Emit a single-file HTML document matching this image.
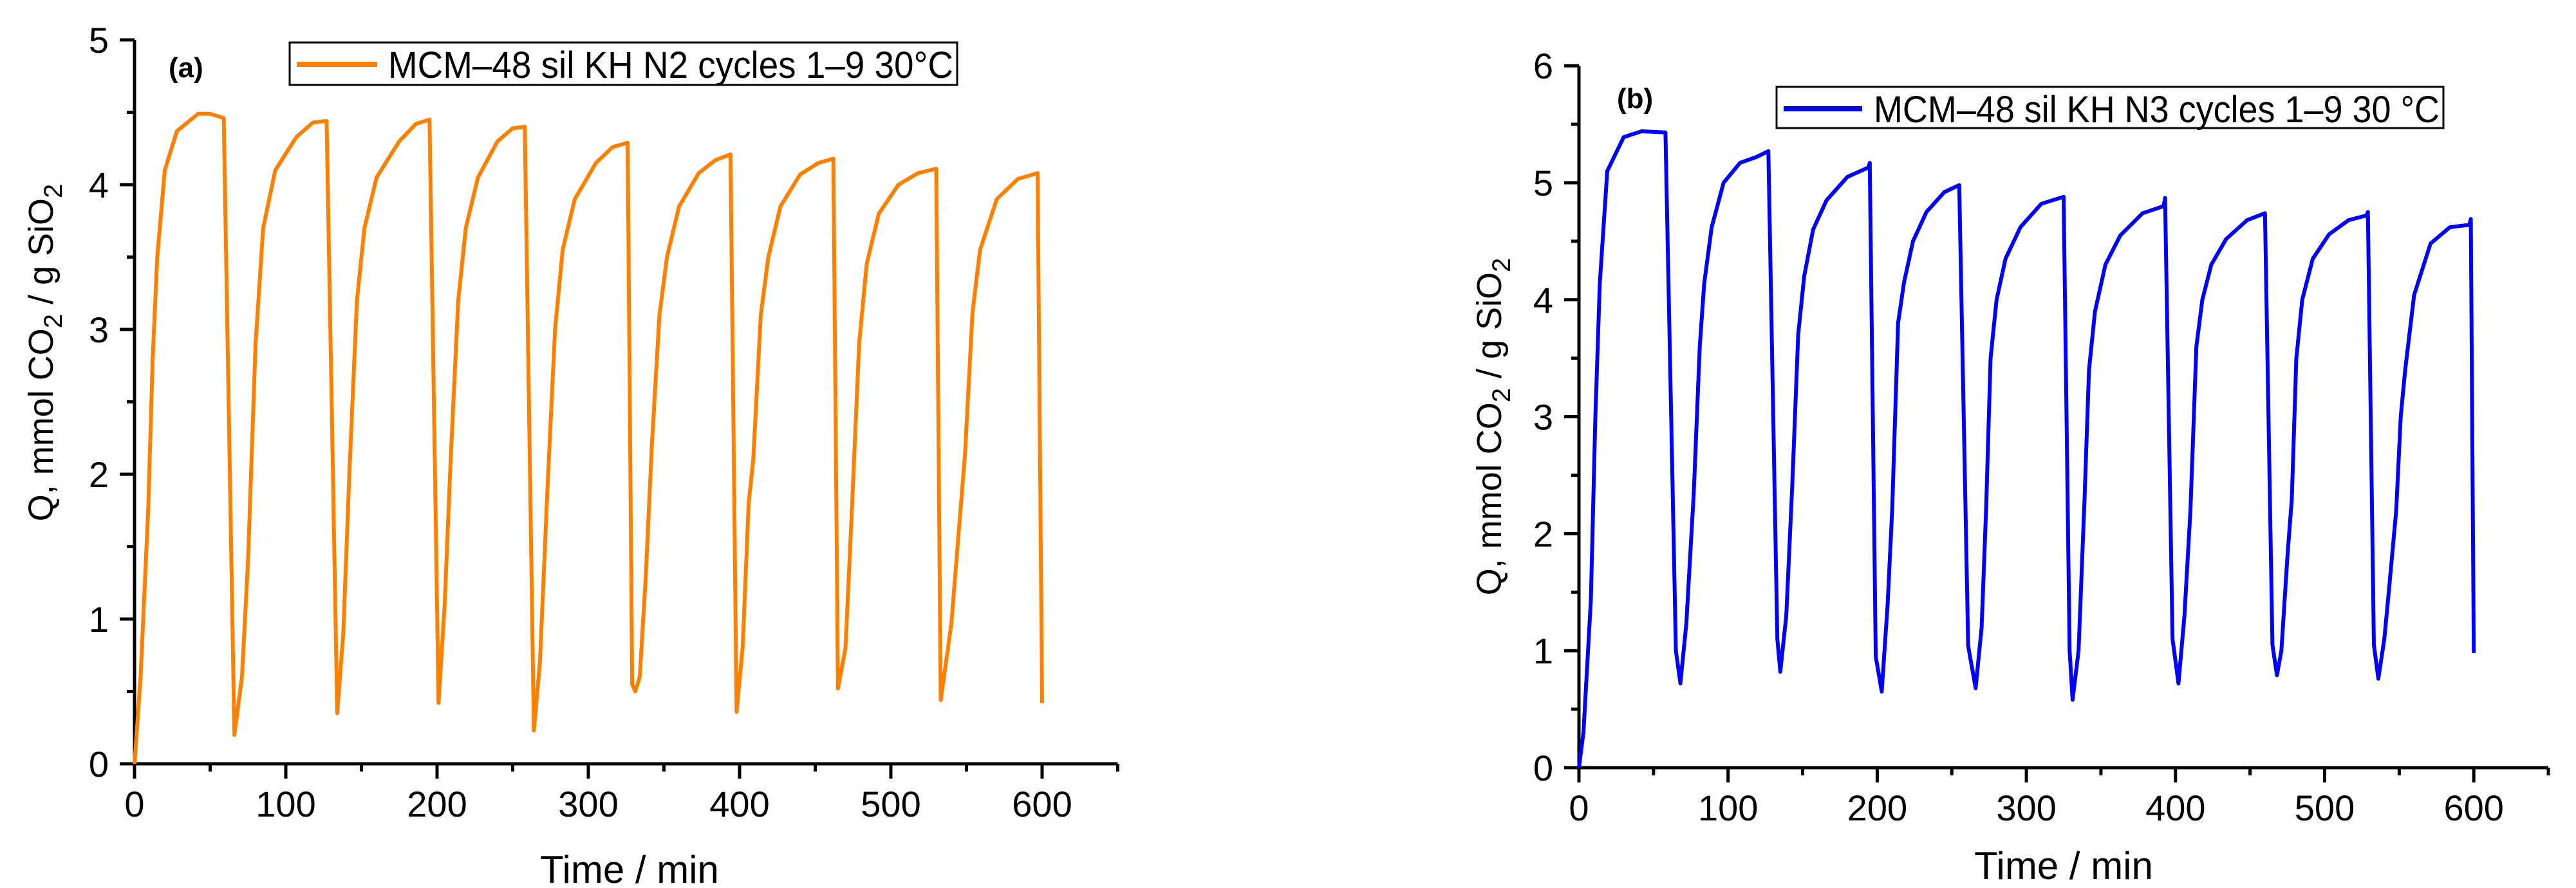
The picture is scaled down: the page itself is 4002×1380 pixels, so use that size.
<!DOCTYPE html>
<html><head><meta charset="utf-8"><style>
html,body{margin:0;padding:0;background:#fff;}
svg{display:block;}
text{font-family:"Liberation Sans Narrow","Liberation Sans",sans-serif;fill:#000;}
.t{font-size:56px;}
.yt{font-family:"Liberation Sans",sans-serif;font-size:54px;}
</style></head>
<body>
<svg id="chart" width="4002" height="1380" viewBox="0 0 4002 1380" xmlns="http://www.w3.org/2000/svg">
<g id="pa"></g>
<g id="pb"></g>
</svg>
<script>
// Panel (a) data: time (min) and Q values
const timeA = [0,4,9,12,15,20,28,42,50,59,66,
 71,75,80,85,93,107,118,127,134,
 138,142,147,152,160,175,186,195,201,
 205,209,214,219,227,240,250,258,264,
 268,273,278,283,291,305,316,326,329,331,
 334,338,342,347,352,360,373,384,394,398,
 402,406,409,414,419,427,440,452,462,465,
 470,474,479,484,492,505,518,530,533,
 540,549,554,559,570,584,597,600];
const qA = [0,0.6,1.75,2.8,3.5,4.1,4.37,4.49,4.49,4.46,0.2,
 0.6,1.4,2.9,3.7,4.1,4.33,4.43,4.44,0.35,
 0.9,2.0,3.2,3.7,4.05,4.3,4.42,4.45,0.42,
 1.1,2.1,3.2,3.7,4.05,4.3,4.39,4.40,0.23,
 0.7,1.9,3.0,3.55,3.9,4.15,4.26,4.29,0.55,0.5,
 0.6,1.3,2.2,3.1,3.5,3.85,4.08,4.17,4.21,0.36,
 0.8,1.8,2.1,3.1,3.5,3.85,4.07,4.15,4.18,0.52,
 0.8,1.7,2.9,3.45,3.8,4.0,4.08,4.11,0.44,
 0.97,2.14,3.12,3.55,3.9,4.04,4.08,0.42];
// Panel (b) data
const timeB = [0,3,8,11,14,19,30,42,58,65,68,
 72,77,81,84,89,97,108,119,127,133,135,
 139,143,147,151,157,166,180,194,195,199,203,
 207,210,214,218,224,233,245,255,261,266,
 270,273,276,280,286,296,310,325,329,331,
 335,339,342,346,353,363,378,392,393,398,402,
 406,410,414,418,424,434,448,460,465,468,
 471,475,478,481,485,492,503,516,528,529,533,536,
 540,543,548,551,554,560,571,584,597,598,600];
const qB = [0,0.3,1.43,3.0,4.14,5.1,5.39,5.44,5.43,1.0,0.72,
 1.23,2.35,3.6,4.14,4.62,5.0,5.17,5.22,5.27,1.1,0.82,
 1.3,2.4,3.7,4.2,4.6,4.85,5.05,5.13,5.17,0.95,0.65,
 1.4,2.2,3.8,4.15,4.5,4.75,4.92,4.98,1.04,0.68,
 1.2,2.2,3.5,4.0,4.35,4.62,4.82,4.88,1.0,0.58,
 1.0,2.3,3.4,3.9,4.3,4.55,4.74,4.80,4.87,1.1,0.72,
 1.3,2.2,3.6,4.0,4.3,4.52,4.68,4.74,1.05,0.79,
 1.0,1.8,2.3,3.5,4.0,4.35,4.56,4.68,4.72,4.75,1.05,0.76,
 1.1,1.5,2.2,3.0,3.4,4.04,4.48,4.62,4.64,4.69,0.98];
const xTicks = [0,100,200,300,400,500,600];
const yTicksA = [0,1,2,3,4,5];
const yTicksB = [0,1,2,3,4,5,6];

const NS="http://www.w3.org/2000/svg";
function mk(parent,tag,attrs,txt){const e=document.createElementNS(NS,tag);for(const k in attrs)e.setAttribute(k,attrs[k]);if(txt!==undefined)e.textContent=txt;parent.appendChild(e);return e;}

function panel(g,cfg,times,qs,yTicks,color){
  const sx=v=>cfg.x0+(v/100)*cfg.px100;
  const sy=v=>cfg.y0-(v)*cfg.pyu;
  const ymax=yTicks[yTicks.length-1];
  // axes
  let ax=mk(g,'line',{x1:cfg.x0,y1:cfg.y0,x2:sx(650),y2:cfg.y0,stroke:'#000','stroke-width':5});
  
  
  let ay=mk(g,'line',{x1:cfg.x0,y1:cfg.y0+2,x2:cfg.x0,y2:sy(ymax),stroke:'#000','stroke-width':5});
  
  
  for(let v=0;v<=650;v+=50){
    const major=v%100===0;
    const tk=mk(g,'line',{x1:sx(v),y1:cfg.y0,x2:sx(v),y2:cfg.y0+(major?23:12),stroke:'#000','stroke-width':5});
    
    
  }
  xTicks.forEach(v=>{
    const t=mk(g,'text',{x:sx(v),y:cfg.y0+82,'text-anchor':'middle',class:'t'},String(v));
    
    
  });
  for(let v=0;v<=ymax+0.001;v+=0.5){
    const major=Math.abs(v-Math.round(v))<0.01;
    const tk=mk(g,'line',{x1:cfg.x0,y1:sy(v),x2:cfg.x0-(major?23:12),y2:sy(v),stroke:'#000','stroke-width':5});
    
    
  }
  yTicks.forEach(v=>{
    const t=mk(g,'text',{x:cfg.x0-40,y:sy(v)+20,'text-anchor':'end',class:'t'},String(v));
    
    
  });
  // series
  const d=times.map((t,i)=>(i?'L':'M')+sx(t).toFixed(1)+' '+sy(qs[i]).toFixed(1)).join(' ');
  const p=mk(g,'path',{d:d,fill:'none',stroke:color,'stroke-width':6,'stroke-linejoin':'round'});
  
  
}

const ga=document.getElementById('pa');
panel(ga,{x0:209,y0:1187,px100:235,pyu:225},timeA,qA,yTicksA,'#FF8000');
const gb=document.getElementById('pb');
panel(gb,{x0:2453,y0:1193,px100:231.7,pyu:181.8},timeB,qB,yTicksB,'#0000FF');
</script>
<svg style="position:absolute;left:0;top:0" width="4002" height="1380" viewBox="0 0 4002 1380">
<text x="262" y="120" style="font-family:'Liberation Sans',sans-serif;font-weight:bold;font-size:44px">(a)</text>
<rect x="450" y="66" width="1037" height="66" fill="none" stroke="#000" stroke-width="3"/>
<line x1="461" y1="100" x2="586" y2="100" stroke="#FF8000" stroke-width="8"/>
<text x="603" y="121" style="font-size:58px" textLength="878" lengthAdjust="spacingAndGlyphs">MCM–48 sil KH N2 cycles 1–9 30°C</text>
<text transform="translate(82,548) rotate(-90)" text-anchor="middle" class="yt">Q, mmol CO<tspan dy="14" font-size="40">2</tspan><tspan dy="-14"> / g SiO</tspan><tspan dy="14" font-size="40">2</tspan></text>
<text x="978" y="1372" text-anchor="middle" style="font-size:60px">Time / min</text>

<text x="2512" y="168" style="font-family:'Liberation Sans',sans-serif;font-weight:bold;font-size:44px">(b)</text>
<rect x="2760" y="135" width="1036" height="64" fill="none" stroke="#000" stroke-width="3"/>
<line x1="2771" y1="169" x2="2893" y2="169" stroke="#0000FF" stroke-width="8"/>
<text x="2911" y="190" style="font-size:58px" textLength="879" lengthAdjust="spacingAndGlyphs">MCM–48 sil KH N3 cycles 1–9 30 °C</text>
<text transform="translate(2332,663) rotate(-90)" text-anchor="middle" class="yt">Q, mmol CO<tspan dy="14" font-size="40">2</tspan><tspan dy="-14"> / g SiO</tspan><tspan dy="14" font-size="40">2</tspan></text>
<text x="3206" y="1366" text-anchor="middle" style="font-size:60px">Time / min</text>
</svg>
</body></html>
